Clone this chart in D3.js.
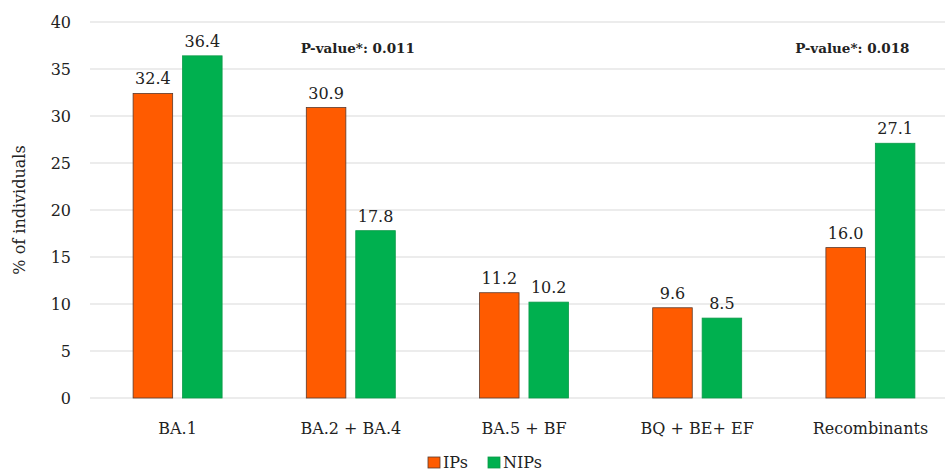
<!DOCTYPE html>
<html>
<head>
<meta charset="utf-8">
<script src="https://cdn.jsdelivr.net/npm/d3@7"></script>
<style>
  body { margin: 0; background: #fff; }
  svg text { font-family: "DejaVu Serif", serif; fill: #222; }
</style>
</head>
<body>
<div id="chart"></div>
<script>
const categories = ["BA.1", "BA.2 + BA.4", "BA.5 + BF", "BQ + BE+ EF", "Recombinants"];
const series = ["IPs", "NIPs"];
const ipsValues = [32.4, 30.9, 11.2, 9.6, 16.0];
const nipsValues = [36.4, 17.8, 10.2, 8.5, 27.1];
const yTicks = [0, 5, 10, 15, 20, 25, 30, 35, 40];
const pValueCats = ["BA.2 + BA.4", "Recombinants"];
const pValueTexts = ["P-value*: 0.011", "P-value*: 0.018"];

const width = 945, height = 473;
const colors = {IPs: "#ff5b00", NIPs: "#00b04f"};
const strokes = {IPs: "#5b3a2c", NIPs: "#0a9a48"};
const pValueShift = [7, -18];

const svg = d3.select("#chart").append("svg")
    .attr("width", width)
    .attr("height", height);

const y = d3.scaleLinear().domain([0, 40]).range([398, 22]);
const x = d3.scaleBand().domain(categories).range([91, 957]);
const groupWidth = 89;
const xs = d3.scaleBand().domain(series).range([0, groupWidth]).paddingInner(0.2);

// gridlines
svg.append("g").selectAll("line")
    .data(yTicks)
    .enter().append("line")
    .attr("x1", 90).attr("x2", width)
    .attr("y1", d => y(d)).attr("y2", d => y(d))
    .attr("stroke", "#d9d9d9")
    .attr("stroke-width", 1);

// y tick labels
svg.append("g").selectAll("text")
    .data(yTicks)
    .enter().append("text")
    .attr("x", 71)
    .attr("y", d => y(d))
    .attr("dy", "0.35em")
    .attr("text-anchor", "end")
    .style("font-size", "16px")
    .text(d => d);

svg.append("text")
    .attr("transform", "translate(25," + y(20) + ") rotate(-90)")
    .attr("text-anchor", "middle")
    .style("font-size", "16px")
    .text("% of individuals");

const rows = categories.map((c, i) => ({cat: c, IPs: ipsValues[i], NIPs: nipsValues[i]}));

const groups = svg.append("g").selectAll("g")
    .data(rows)
    .enter().append("g")
    .attr("transform", d => "translate(" + (x(d.cat) + (x.bandwidth() - groupWidth) / 2) + ",0)");

groups.selectAll("rect")
    .data(d => series.map(s => ({s: s, v: d[s]})))
    .enter().append("rect")
    .attr("x", d => xs(d.s))
    .attr("y", d => y(d.v))
    .attr("width", xs.bandwidth())
    .attr("height", d => y(0) - y(d.v))
    .attr("fill", d => colors[d.s])
    .attr("stroke", d => strokes[d.s])
    .attr("stroke-width", 0.8);

groups.selectAll("text.val")
    .data(d => series.map(s => ({s: s, v: d[s]})))
    .enter().append("text")
    .attr("class", "val")
    .attr("x", d => xs(d.s) + xs.bandwidth() / 2)
    .attr("y", d => y(d.v) - 9)
    .attr("text-anchor", "middle")
    .style("font-size", "16px")
    .text(d => d.v.toFixed(1));

// category labels
svg.append("g").selectAll("text")
    .data(categories)
    .enter().append("text")
    .attr("x", d => x(d) + x.bandwidth() / 2)
    .attr("y", 434)
    .attr("text-anchor", "middle")
    .style("font-size", "16px")
    .text(d => d);

// p-values
svg.append("g").selectAll("text")
    .data(pValueCats)
    .enter().append("text")
    .attr("x", (d, i) => x(d) + x.bandwidth() / 2 + pValueShift[i])
    .attr("y", 53)
    .attr("text-anchor", "middle")
    .style("font-size", "13.5px")
    .style("font-weight", "bold")
    .text((d, i) => pValueTexts[i]);

// legend
const legend = svg.append("g").attr("transform", "translate(428,457)");
const legendX = [0, 60];
series.forEach((s, i) => {
    legend.append("rect")
        .attr("x", legendX[i]).attr("y", 0)
        .attr("width", 12).attr("height", 11)
        .attr("fill", colors[s])
        .attr("stroke", strokes[s]).attr("stroke-width", 0.8);
    legend.append("text")
        .attr("x", legendX[i] + 15).attr("y", 11)
        .style("font-size", "16px")
        .text(s);
});
</script>
</body>
</html>
